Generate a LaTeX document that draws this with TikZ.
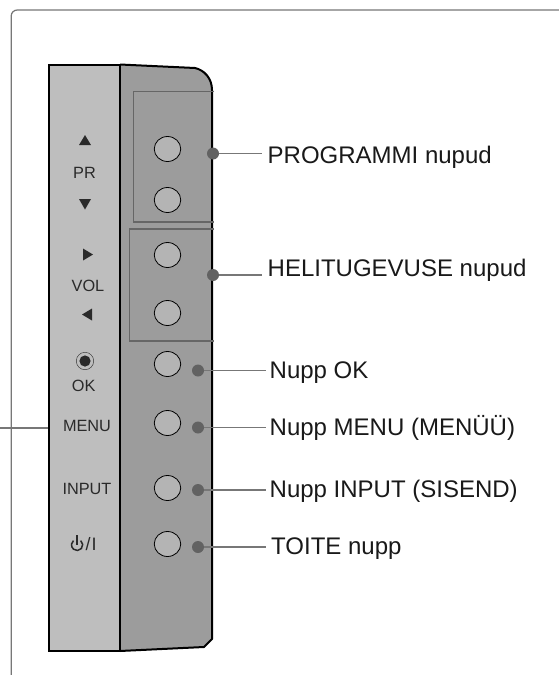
\documentclass[tikz,border=0pt]{standalone}
\usepackage{fontspec}
\setmainfont{Liberation Sans}
\usetikzlibrary{shapes.geometric}
\definecolor{panelL}{HTML}{BEBEBE}
\definecolor{panelR}{HTML}{9C9C9C}
\definecolor{btn}{HTML}{B4B4B4}
\definecolor{frameC}{HTML}{777777}
\definecolor{dotC}{HTML}{626262}
\definecolor{boxC}{HTML}{666666}
\definecolor{txtC}{HTML}{2A2A2A}
\tikzset{
  btnshape/.style={ellipse,draw=black,line width=0.8pt,fill=btn,minimum width=26.5pt,minimum height=25pt,inner sep=0pt},
  dotm/.style={circle,fill=dotC,minimum size=12pt,inner sep=0pt},
  leader/.style={draw=frameC,line width=1.1pt},
  callout/.style={anchor=base west,font=\fontsize{24}{26}\selectfont,text=black!90,inner sep=0pt},
  panelt/.style={anchor=base,font=\fontsize{16.3}{18}\selectfont,text=txtC,inner sep=0pt},
  glyph/.style={fill=txtC,draw=none}
}
\begin{document}
\begin{tikzpicture}[x=1pt,y=-1pt]
\useasboundingbox (0,0) rectangle (559,675);
\fill[white] (0,0) rectangle (559,675);
% outer frame
\draw[frameC,line width=1.2pt] (11.2,675) -- (11.2,16) arc[start angle=180,end angle=270,radius=6] -- (559,10);
% panels
\fill[panelL] (48,65) rectangle (120,651);
\fill[panelR] (120,65) -- (195,68) .. controls (204,70) and (212,78) .. (212,90) -- (212,639) -- (204,647) -- (120,651) -- cycle;
\draw[black,line width=2pt,line join=miter] (120,64.5) -- (48.5,64.5) -- (48.5,650.5) -- (120,650.5);
\draw[black,line width=2pt,line join=round] (120,64.5) -- (195,68) .. controls (204,70) and (212,78) .. (212,90) -- (212,639) -- (204,647) -- (120,651);
\draw[black,line width=2.2pt] (120,64) -- (120,651);
% group boxes
\draw[boxC,line width=1.6pt] (214,91.5) -- (133.5,91.5) -- (133.5,222) -- (214,222);
\draw[boxC,line width=1.6pt] (214,229) -- (129.5,229) -- (129.5,341) -- (214,341);
% buttons
\foreach \n/\y in {a/149,b/200,c/255,d/313,e/364,f/423,g/488,h/544}
  \node[btnshape] (btn\n) at (167.5,\y) {};
% markers
\node[dotm] (m1) at (213,153.5) {};
\node[dotm] (m2) at (213,275) {};
\node[dotm] (m3) at (198,370.5) {};
\node[dotm] (m4) at (198,427.5) {};
\node[dotm] (m5) at (198,490) {};
\node[dotm] (m6) at (198,547) {};
% callouts
\node[callout] (l1) at (267.5,163) {PROGRAMMI nupud};
\node[callout] (l2) at (267.5,276) {HELITUGEVUSE nupud};
\node[callout] (l3) at (269.5,378) {Nupp OK};
\node[callout] (l4) at (269.5,435) {Nupp MENU (MENÜÜ)};
\node[callout] (l5) at (269.5,497.5) {Nupp INPUT (SISEND)};
\node[callout] (l6) at (271,554) {TOITE nupp};
% leader ends
\coordinate (e1) at (262,153.5);
\coordinate (e2) at (262,275);
\coordinate (e3) at (266,370.5);
\coordinate (e4) at (266,427.5);
\coordinate (e5) at (266,490);
\coordinate (e6) at (266,547);
\foreach \i in {1,...,6} \draw[leader] (m\i) -- (e\i);
% panel legends
\fill[glyph] (85,135) -- (79,145) -- (91,145) -- cycle;
\node[panelt] (pr) at (84.5,178) {PR};
\fill[glyph] (79,199) -- (91,199) -- (85,209.5) -- cycle;
\fill[glyph] (83,248.5) -- (93,254.5) -- (83,260.5) -- cycle;
\node[panelt] (vol) at (88,291.5) {VOL};
\fill[glyph] (92,308.5) -- (82,314.5) -- (92,320.5) -- cycle;
\draw[txtC,line width=0.4pt] (85,361) circle[radius=8.7];
\fill[txtC] (85,361) circle[radius=5.6];
\node[panelt] (ok) at (83.7,391) {OK};
\node[panelt] (menu) at (87,431.7) {MENU};
\node[panelt] (inp) at (87,494.3) {INPUT};
\draw[txtC,line width=1.5pt] (80.7,540.6) arc[start angle=-50,end angle=230,radius=5.6];
\draw[txtC,line width=1.5pt] (77,535) -- (77,545);
\node[panelt,anchor=base west,font=\fontsize{18}{20}\selectfont] (slash) at (85.5,550) {/\kern1pt I};
% left leader
\coordinate (e0) at (0,428);
\coordinate (e7) at (47.5,428);
\draw[leader] (e0) -- (e7);
\end{tikzpicture}
\end{document}
